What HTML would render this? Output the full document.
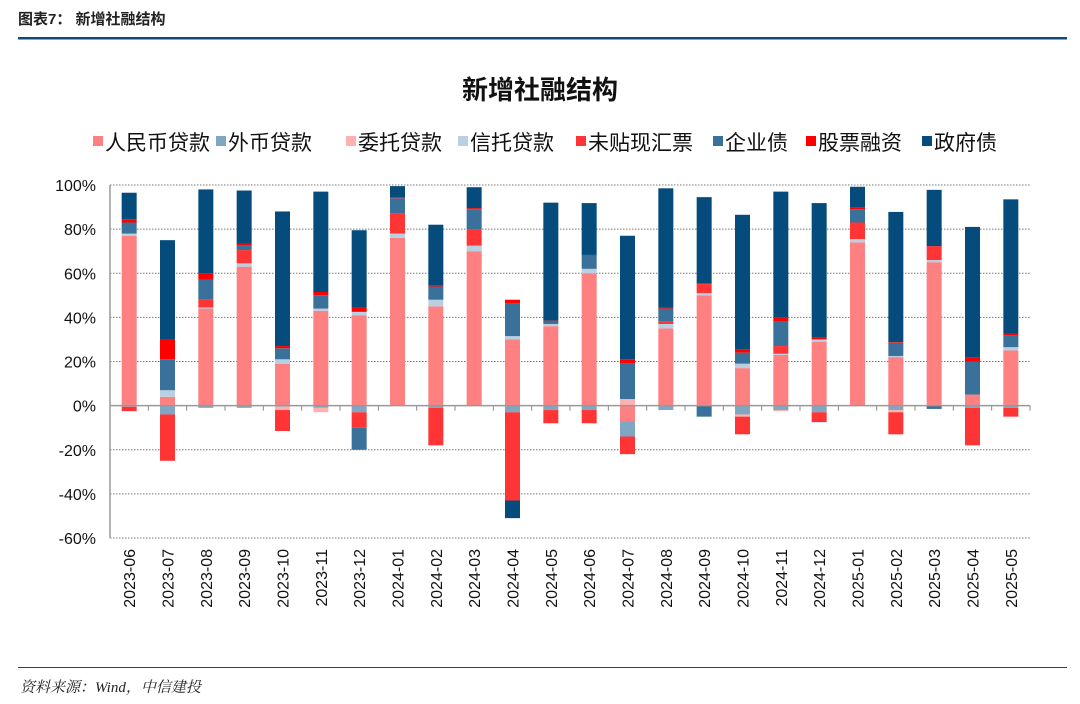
<!DOCTYPE html>
<html><head><meta charset="utf-8"><style>
body{margin:0;width:1080px;height:699px;background:#fff;overflow:hidden;font-family:"Liberation Sans","Noto Sans CJK SC",sans-serif}
</style></head><body>
<svg id="c" width="1080" height="699" xmlns="http://www.w3.org/2000/svg">
<text x="18" y="24" font-size="15" font-weight="bold" fill="#222" font-family="Liberation Sans, Noto Sans CJK SC, sans-serif">图表7：  新增社融结构</text>
<rect x="18" y="37" width="1049" height="2.5" fill="#0d4a7a"/>
<text x="540" y="99" font-size="26" font-weight="bold" text-anchor="middle" fill="#111" font-family="Liberation Sans, Noto Sans CJK SC, sans-serif">新增社融结构</text>
<g id="legend"></g><g id="plot"></g>
<rect x="18" y="667" width="1049" height="1" fill="#0d4a7a"/>
<text x="20" y="692" font-size="15" font-style="italic" fill="#222" font-family="Liberation Serif, Noto Serif CJK SC, serif">资料来源：Wind，中信建投</text>
</svg>
<script>
const categories=["2023-06","2023-07","2023-08","2023-09","2023-10","2023-11","2023-12","2024-01","2024-02","2024-03","2024-04","2024-05","2024-06","2024-07","2024-08","2024-09","2024-10","2024-11","2024-12","2025-01","2025-02","2025-03","2025-04","2025-05"];
const seriesNames=["人民币贷款","外币贷款","委托贷款","信托贷款","未贴现汇票","企业债","股票融资","政府债"];
const rmb=[77,4,44,63,19,43,41,76,45,70,30,36,60,-7,35,50,17,23,29,74,22,65,5,25];
const fx=[-0.5,-4,-1,-1,-0.5,-1,-3,0,-1,0,-3,-2,-2,-7,-2,0,-4,-2,-3,0,-2,0,-1,-1];
const entrust=[0,0,0,0,-1.5,-2,0,0,0,0,0,0,0,3,0,0,-1,-0.5,0,0,-1,0,0,0];
const trust=[1,3,0.5,1.5,2,1,1.5,2,3,2.5,1.5,1,2,0,2,1,2,0.5,1,1.5,0.5,1,0,1.5];
const undisc=[-2,-21,3.5,6,-9.5,0,-7,9,-17,7.5,-40,-6,-6,-8,1,4,-8,3.5,-4,7.5,-10,6,-17,-4];
const bond=[5,14,9,2,5,6,-10,7,6,9,15,1,6,16,6,-5,5,11,-0.5,6,6,-1.5,15,5.5];
const stock=[1.5,9,3,1,1,1.5,2,0.5,0.5,0.5,1.5,0.5,0.3,2,0.5,0.5,1.5,2,0.8,0.7,0.3,0.3,2,0.5];
const gov=[12,45,38,24,61,45.5,35,5,27.5,9.5,-8,53.5,23.5,56,54,39,61,57,61,9.5,59,25.5,59,61];
const yTicks=[100,80,60,40,20,0,-20,-40,-60];
const colors=["#ff8080","#7fa6c3","#ffb0b0","#b9cfe2","#ff3535","#3a719a","#ff0000","#054c7c"];
const series=[rmb,fx,entrust,trust,undisc,bond,stock,gov];
const NS="http://www.w3.org/2000/svg";
const X0=110,X1=1030,Y0=185,Y1=538,ymax=100,ymin=-60;
const y=v=>Y0+(ymax-v)*(Y1-Y0)/(ymax-ymin);
const bw=(X1-X0)/categories.length;
const x=i=>X0+bw*(i+0.5);
function mk(t,a,p){const e=document.createElementNS(NS,t);for(const k in a)e.setAttribute(k,a[k]);p.appendChild(e);return e;}
const plot=document.getElementById('plot');
yTicks.forEach(v=>{
  if(v!==0){const l=mk('line',{x1:X0,x2:X1,y1:y(v),y2:y(v),stroke:'#777','stroke-dasharray':'1.5,1.5','stroke-width':1},plot);
  
  }
  const t=mk('text',{x:X0-14,y:y(v)+6,'text-anchor':'end','font-size':16,fill:'#111'},plot);
  t.textContent=v+'%';
  
  
});
categories.forEach((c,i)=>{
  let pos=0,neg=0;
  series.forEach((s,k)=>{
    const v=s[i]; if(!v) return;
    let a,b; if(v>0){a=pos;b=pos+v;pos=b;}else{a=neg;b=neg+v;neg=b;}
    const r=mk('rect',{x:x(i)-7.5,width:15,y:Math.min(y(a),y(b)),height:Math.abs(y(a)-y(b)),fill:colors[k]},plot);
    
    
  });
  const tk=mk('line',{x1:X0+bw*(i+1),x2:X0+bw*(i+1),y1:y(0),y2:y(0)+5,stroke:'#888'},plot);
  
  
  const t=mk('text',{transform:`translate(${x(i)+6},549) rotate(-90)`,'text-anchor':'end','font-size':16,fill:'#111'},plot);
  t.textContent=c;
  
  
});
const ax=mk('line',{x1:X0,x2:X1,y1:y(0),y2:y(0),stroke:'#999','stroke-width':1.5},plot);


const ay=mk('line',{x1:X0,x2:X0,y1:Y0,y2:Y1,stroke:'#999','stroke-width':1.5},plot);


const lg=document.getElementById('legend');
const lx=[93,216,346,458,576,713,806,922];
seriesNames.forEach((n,k)=>{
  const g=mk('g',{},lg);
  
  
  mk('rect',{x:lx[k],y:136,width:10,height:10,fill:colors[k]},g);
  const t=mk('text',{x:lx[k]+12,y:150,'font-size':21,fill:'#111'},g);
  t.textContent=n;
});
</script>
</body></html>
